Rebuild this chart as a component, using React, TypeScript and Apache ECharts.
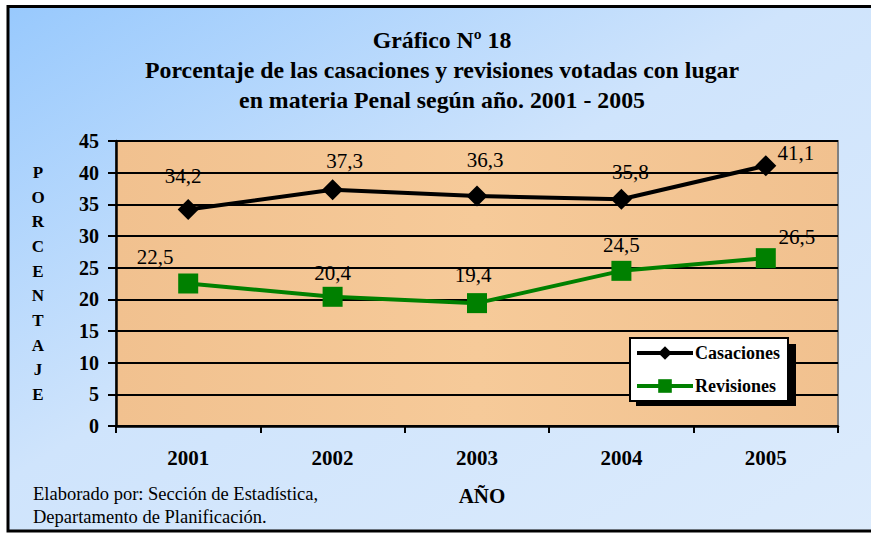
import React, { useEffect, useRef } from "react";
import * as echarts from "echarts";

const years = ["2001", "2002", "2003", "2004", "2005"];
const casaciones = [34.2, 37.3, 36.3, 35.8, 41.1];
const revisiones = [22.5, 20.4, 19.4, 24.5, 26.5];
const casacionesLabelOffsets = [[-5, -33], [12, -29], [8, -36], [9, -27], [30, -13]];
const revisionesLabelOffsets = [[-33, -27], [0, -24], [-4, -28], [0, -26], [31, -21]];
const yTicks = { min: 0, max: 45, interval: 5 };

const SERIF = "'Liberation Serif', 'Times New Roman', serif";

export default function App() {
  const ref = useRef<HTMLDivElement>(null);
  useEffect(() => {
    document.body.style.margin = "0";
    const chart = echarts.init(ref.current!, null, { renderer: "svg" });
    const fmt = (v: number) => String(v).replace(".", ",");
    const mkData = (vals: number[], offs: number[][]) =>
      vals.map((v, i) => ({
        value: v,
        label: { offset: offs[i] },
      }));
    chart.setOption({
      animation: false,
      backgroundColor: "#ffffff",
      textStyle: { fontFamily: SERIF },
      title: {
        text: "Gráfico Nº 18\nPorcentaje de las casaciones y revisiones votadas con lugar\nen materia Penal según año. 2001 - 2005",
        left: 442,
        textAlign: "center",
        top: 20,
        padding: [5, 0, 5, 0],
        textStyle: {
          fontFamily: SERIF,
          fontSize: 23.8,
          fontWeight: "bold",
          color: "#000",
          lineHeight: 30,
        },
      },
      grid: {
        left: 116,
        right: 33,
        top: 141,
        bottom: 107,
        show: true,
        borderColor: "#808080",
        borderWidth: 2,
        backgroundColor: new echarts.graphic.LinearGradient(0, 0, 1, 0, [
          { offset: 0, color: "#f1c18f" },
          { offset: 0.5, color: "#f6ca99" },
          { offset: 1, color: "#f1c18f" },
        ]),
      },
      legend: {
        orient: "vertical",
        left: 630,
        top: 338,
        padding: [6, 8, 6, 5],
        itemWidth: 56,
        itemHeight: 17,
        itemGap: 15,
        backgroundColor: "#ffffff",
        borderColor: "#000",
        borderWidth: 2,
        lineStyle: { width: 4 },
        textStyle: {
          fontFamily: SERIF,
          fontSize: 18,
          fontWeight: "bold",
          color: "#000",
          padding: [0, 0, 0, -3],
        },
        data: ["Casaciones", "Revisiones"],
      },
      xAxis: {
        type: "category",
        data: years,
        boundaryGap: true,
        name: "AÑO",
        nameLocation: "middle",
        nameGap: 59,
        nameTextStyle: {
          fontFamily: SERIF,
          fontSize: 21,
          fontWeight: "bold",
          color: "#000",
          padding: [0, 0, 0, 10],
        },
        axisLine: { lineStyle: { color: "#000", width: 2.5 } },
        axisTick: { show: true, length: 7, lineStyle: { color: "#000", width: 2 } },
        axisLabel: {
          margin: 21,
          fontFamily: SERIF,
          fontSize: 21,
          fontWeight: "bold",
          color: "#000",
        },
      },
      yAxis: {
        type: "value",
        min: yTicks.min,
        max: yTicks.max,
        interval: yTicks.interval,
        name: "P\nO\nR\nC\nE\nN\nT\nA\nJ\nE",
        nameLocation: "middle",
        nameRotate: 0,
        nameGap: 78,
        nameTextStyle: {
          fontFamily: SERIF,
          fontSize: 17,
          fontWeight: "bold",
          color: "#000",
          align: "center",
          lineHeight: 24.7,
        },
        axisLine: { show: true, lineStyle: { color: "#000", width: 2.5 } },
        axisTick: { show: true, length: 8, lineStyle: { color: "#000", width: 2 } },
        splitLine: { show: true, lineStyle: { color: "#000", width: 2 } },
        axisLabel: {
          margin: 17,
          fontFamily: SERIF,
          fontSize: 20,
          fontWeight: "bold",
          color: "#000",
        },
      },
      graphic: [
        {
          type: "rect",
          z: -10,
          silent: true,
          shape: { x: 8, y: 6.5, width: 875, height: 524.5 },
          style: {
            fill: new echarts.graphic.LinearGradient(0, 0, 1, 1, [
              { offset: 0, color: "#98c9fd" },
              { offset: 0.45, color: "#cfe4fc" },
              { offset: 1, color: "#dcebfc" },
            ]),
            stroke: "#000",
            lineWidth: 3,
          },
        },
        {
          type: "rect",
          z: 1,
          silent: true,
          shape: { x: 636, y: 344, width: 160, height: 62 },
          style: { fill: "#000" },
        },
        {
          type: "text",
          left: 33,
          top: 482,
          silent: true,
          style: {
            text: "Elaborado por: Sección de Estadística,\nDepartamento de Planificación.",
            fontFamily: SERIF,
            fontSize: 18.5,
            lineHeight: 23,
            fill: "#000",
          },
        },
      ],
      series: [
        {
          name: "Casaciones",
          type: "line",
          data: mkData(casaciones, casacionesLabelOffsets),
          symbol: "diamond",
          symbolSize: 21,
          lineStyle: { color: "#000", width: 4 },
          itemStyle: { color: "#000" },
          label: {
            show: true,
            position: "inside",
            fontFamily: SERIF,
            fontSize: 21,
            color: "#000",
            formatter: (p: any) => fmt(p.value),
          },
        },
        {
          name: "Revisiones",
          type: "line",
          data: mkData(revisiones, revisionesLabelOffsets),
          symbol: "rect",
          symbolSize: 20,
          lineStyle: { color: "#008000", width: 4 },
          itemStyle: { color: "#008000" },
          label: {
            show: true,
            position: "inside",
            fontFamily: SERIF,
            fontSize: 21,
            color: "#000",
            formatter: (p: any) => fmt(p.value),
          },
        },
      ],
    });
    return () => chart.dispose();
  }, []);
  return <div ref={ref} style={{ width: 871, height: 533 }} />;
}
